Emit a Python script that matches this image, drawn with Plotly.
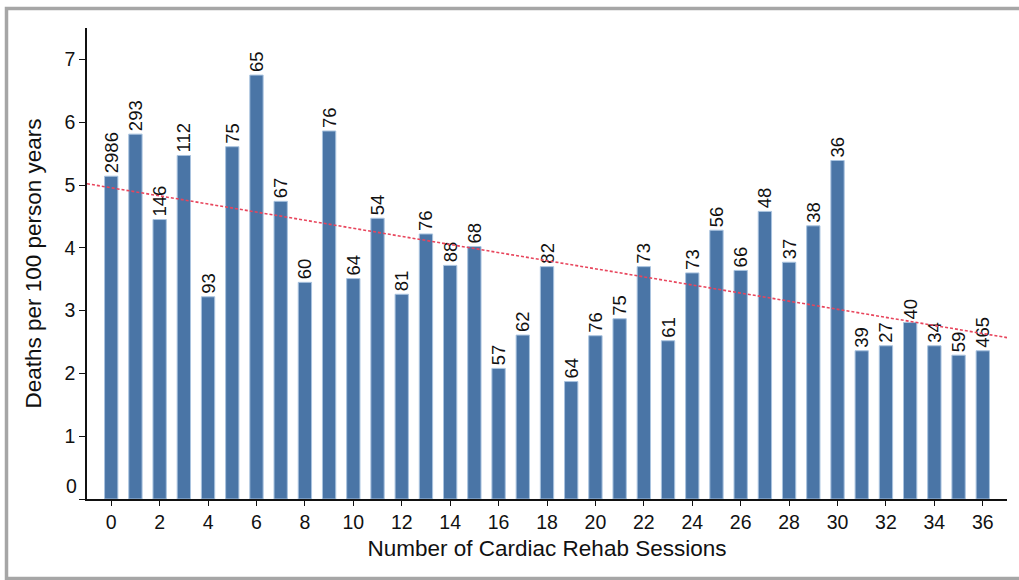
import plotly.graph_objects as go

sessions = list(range(37))
death_rates = [5.14, 5.81, 4.45, 5.47, 3.22, 5.61, 6.75, 4.74, 3.45, 5.86,
               3.51, 4.47, 3.26, 4.22, 3.72, 4.02, 2.08, 2.61, 3.70, 1.87,
               2.60, 2.87, 3.70, 2.52, 3.60, 4.28, 3.64, 4.58, 3.77, 4.35,
               5.39, 2.36, 2.44, 2.81, 2.44, 2.29, 2.36]
n_patients = ["2986", "293", "146", "112", "93", "75", "65", "67", "60", "76",
              "64", "54", "81", "76", "88", "68", "57", "62", "82", "64",
              "76", "75", "73", "61", "73", "56", "66", "48", "37", "38",
              "36", "39", "27", "40", "34", "59", "465"]
trend_x = [-1, 37]
trend_y = [5.02, 2.57]
x_ticks = list(range(0, 37, 2))
y_ticks = [0, 1, 2, 3, 4, 5, 6, 7]

FONT = "Liberation Sans, Arial, Helvetica, sans-serif"
TXT = "#111111"

fig = go.Figure()
fig.add_trace(go.Bar(
    x=sessions, y=death_rates, width=0.55,
    marker=dict(color="#4a75a6", line=dict(color="#a9c3df", width=1)),
    text=n_patients, textposition="outside", textangle=-90,
    constraintext="none", cliponaxis=False,
    textfont=dict(family=FONT, size=18.5, color=TXT),
    hoverinfo="skip",
))
fig.add_trace(go.Scatter(
    x=trend_x, y=trend_y, mode="lines",
    line=dict(color="#e8455c", width=1.6, dash="3px,2px"),
    hoverinfo="skip",
))

fig.update_layout(
    width=1019, height=580,
    margin=dict(l=87, r=12, t=28, b=81),
    paper_bgcolor="white", plot_bgcolor="white",
    showlegend=False,
    font=dict(family=FONT, color=TXT),
    xaxis=dict(
        range=[-1, 37], tickvals=x_ticks, ticks="outside", ticklen=5,
        tickwidth=1.2, tickcolor="#111", showline=True, linecolor="#111",
        linewidth=1.6, showgrid=False, zeroline=False,
        tickfont=dict(size=19.5, family=FONT, color=TXT),
        title=dict(text="Number of Cardiac Rehab Sessions",
                   font=dict(size=22.5, family=FONT, color=TXT), standoff=8),
    ),
    yaxis=dict(
        range=[0, 7.5], tickvals=y_ticks,
        ticktext=["" if v == 0 else str(v) for v in y_ticks],
        ticks="outside", ticklen=6, tickwidth=1.2, tickcolor="#111",
        showline=True, linecolor="#111", linewidth=1.6, showgrid=False,
        zeroline=False,
        tickfont=dict(size=19.5, family=FONT, color=TXT),
        title=dict(text="Deaths per 100 person years",
                   font=dict(size=22.5, family=FONT, color=TXT), standoff=17),
    ),
    annotations=[dict(
        text=str(y_ticks[0]), xref="paper", x=0, xanchor="right", xshift=-8,
        yref="y", y=y_ticks[0], yanchor="middle", yshift=13, showarrow=False,
        font=dict(size=19.5, family=FONT, color=TXT),
    )],
    shapes=[
        dict(type="rect", xref="paper", yref="paper",
             x0=(6.5 - 87) / 920, x1=(1030 - 87) / 920,
             y0=(499 - 578.5) / 471, y1=(499 - 8.5) / 471,
             line=dict(color="#a6a6a6", width=3.5), layer="below"),
    ],
)

fig.write_html("out.html", config={"displayModeBar": False},
               post_script="document.body.style.margin='0';")
